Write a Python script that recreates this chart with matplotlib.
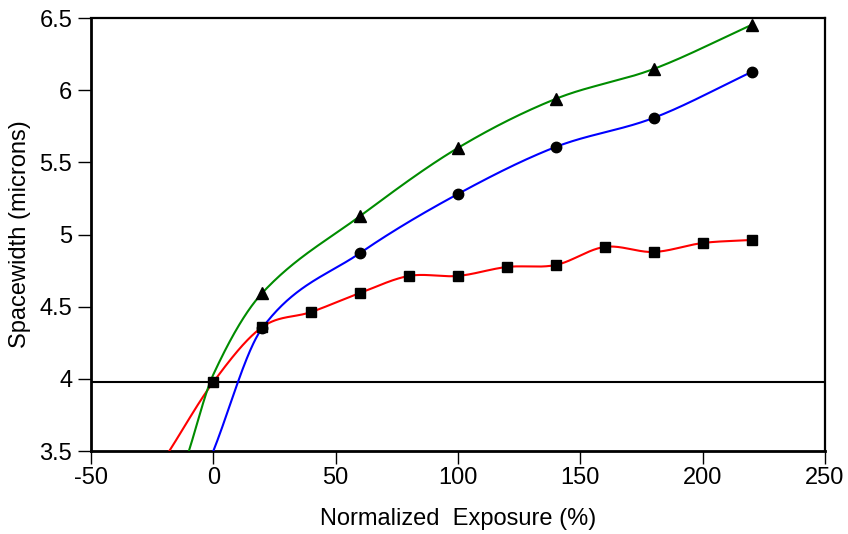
import numpy as np
import matplotlib
matplotlib.use("Agg")
import matplotlib.pyplot as plt

plt.rcParams['font.family'] = ['Liberation Sans', 'DejaVu Sans']
plt.rcParams['axes.unicode_minus'] = False

# Measured spacewidth vs normalized exposure
x_square = [0, 20, 40, 60, 80, 100, 120, 140, 160, 180, 200, 220]
y_square = [3.978, 4.359, 4.463, 4.595, 4.713, 4.713, 4.775, 4.789, 4.914, 4.879, 4.941, 4.962]

x_circle = [20, 60, 100, 140, 180, 220]
y_circle = [4.352, 4.872, 5.281, 5.607, 5.808, 6.126]

x_triangle = [20, 60, 100, 140, 180, 220]
y_triangle = [4.595, 5.128, 5.600, 5.940, 6.147, 6.452]

# Where each fitted curve leaves the bottom of the plot (and green's pass near x = 0)
lead_red = ([-18], [3.5])
lead_blue = ([0], [3.5])
lead_green = ([-10, 0], [3.5, 4.03])

reference_level = 3.978

x_ticks = [-50, 0, 50, 100, 150, 200, 250]
y_ticks = [3.5, 4, 4.5, 5, 5.5, 6, 6.5]
y_ticklabels = ['3.5', '4', '4.5', '5', '5.5', '6', '6.5']


def smooth_curve(xk, yk, per_segment=60):
    """Cubic Hermite curve with Catmull-Rom style tangents."""
    xk = np.asarray(xk, float)
    yk = np.asarray(yk, float)
    n = len(xk)
    m = np.zeros(n)
    m[0] = (yk[1] - yk[0]) / (xk[1] - xk[0])
    m[-1] = (yk[-1] - yk[-2]) / (xk[-1] - xk[-2])
    for i in range(1, n - 1):
        m[i] = (yk[i + 1] - yk[i - 1]) / (xk[i + 1] - xk[i - 1])
    out_x, out_y = [], []
    for i in range(n - 1):
        h = xk[i + 1] - xk[i]
        t = np.linspace(0, 1, per_segment, endpoint=(i == n - 2))
        h00 = 2 * t ** 3 - 3 * t ** 2 + 1
        h10 = t ** 3 - 2 * t ** 2 + t
        h01 = -2 * t ** 3 + 3 * t ** 2
        h11 = t ** 3 - t ** 2
        out_x.append(xk[i] + t * h)
        out_y.append(h00 * yk[i] + h10 * h * m[i] + h01 * yk[i + 1] + h11 * h * m[i + 1])
    return np.concatenate(out_x), np.concatenate(out_y)


fig = plt.figure(figsize=(8.48, 5.34), dpi=100)
ax = fig.add_axes([91 / 848, 83 / 534, 734 / 848, 433 / 534])

ax.axhline(reference_level, color='black', lw=1.5, zorder=2)

series = [
    (lead_red, x_square, y_square, '#ff0000', 's', 7.5),
    (lead_blue, x_circle, y_circle, '#0000ff', 'o', 7.5),
    (lead_green, x_triangle, y_triangle, '#008c00', '^', 8),
]
for lead, xs, ys, color, marker, ms in series:
    cx, cy = smooth_curve(list(lead[0]) + xs, list(lead[1]) + ys)
    ax.plot(cx, cy, color=color, lw=1.5, zorder=3)
    ax.plot(xs, ys, linestyle='none', marker=marker, color='black', ms=ms, zorder=4)

ax.set_xlim(-50, 250)
ax.set_ylim(3.5, 6.5)
ax.set_xticks(x_ticks)
ax.set_yticks(y_ticks)
ax.set_yticklabels(y_ticklabels)
ax.tick_params(direction='out', length=9.5, width=1.0, labelsize=17, color='black')
ax.tick_params(axis='x', pad=2)
ax.tick_params(axis='y', pad=4)

for side in ['left', 'bottom']:
    ax.spines[side].set_linewidth(2.0)
for side in ['top', 'right']:
    ax.spines[side].set_linewidth(1.6)

ax.set_xlabel('Normalized  Exposure (%)', fontsize=17, labelpad=14)
ax.set_ylabel('Spacewidth (microns)', fontsize=17, labelpad=6)

fig.savefig('out.png', dpi=100)
